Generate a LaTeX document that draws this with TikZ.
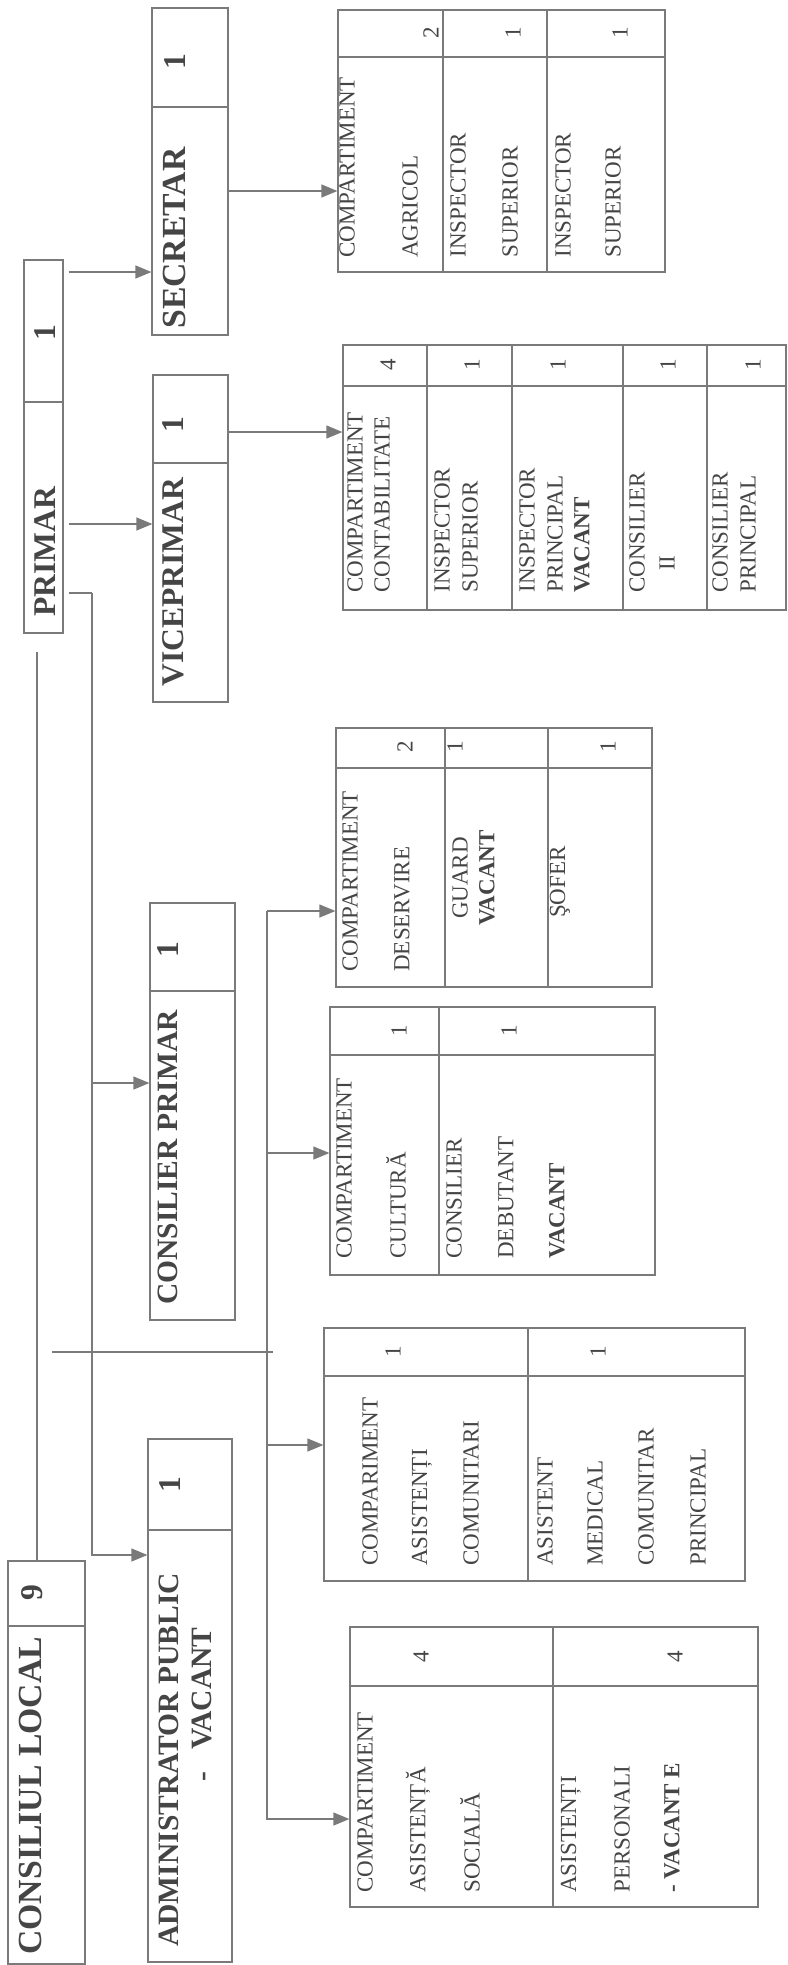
\documentclass[tikz,border=0pt]{standalone}
\usepackage{fontspec}
\setmainfont{Liberation Serif}
\usetikzlibrary{arrows.meta,fit}
\definecolor{ink}{HTML}{454545}
\definecolor{rule}{HTML}{7A7A7A}
\tikzset{
  box/.style={draw=rule,line width=.7pt,inner sep=0pt},
  wire/.style={draw=rule,line width=.7pt},
  arr/.style={draw=rule,line width=.7pt,-{Triangle[length=3.2mm,width=2.6mm,fill=rule]}},
  txt/.style={rotate=90,anchor=west,inner sep=0pt,text=ink,font=\fontsize{13.1}{15}\selectfont},
  num/.style={rotate=90,inner sep=0pt,text=ink,font=\fontsize{13.1}{15}\selectfont},
  hdr/.style={rotate=90,anchor=west,inner sep=0pt,text=ink,font=\bfseries\fontsize{18}{20}\selectfont},
  hdrbig/.style={hdr,font=\bfseries\fontsize{19.2}{21}\selectfont},
  hdrsmall/.style={hdr,font=\bfseries\fontsize{16.8}{19}\selectfont},
  hnum/.style={rotate=90,inner sep=0pt,text=ink,font=\bfseries\fontsize{18}{20}\selectfont}
}
\begin{document}
\begin{tikzpicture}[x=0.02cm,y=-0.02cm]
\useasboundingbox (0,0) rectangle (788,1965);

% head boxes
\node[box,fit={(24,260)(63,633)}] (primar) {};
\node[box,fit={(152,8)(228,335)}] (secretar) {};
\node[box,fit={(153,375)(228,702)}] (viceprimar) {};
\node[box,fit={(150,903)(235,1320)}] (consprimar) {};
\node[box,fit={(148,1439)(232,1962)}] (admin) {};
\node[box,fit={(8,1561)(85,1964)}] (consiliu) {};
\draw[wire] (24,402) -- (63,402) (152,107) -- (228,107) (153,463) -- (228,463)
  (150,991) -- (235,991) (148,1530) -- (232,1530) (8,1626) -- (85,1626);

% compartment tables
\node[box,fit={(338,10)(665,272)}] (agricol) {};
\draw[wire] (338,57) -- (665,57) (443,10) -- (443,272) (547,10) -- (547,272);
\node[box,fit={(343,345)(786,610)}] (contab) {};
\draw[wire] (343,386) -- (786,386);
\foreach \x in {427,512,623,707} \draw[wire] (\x,345) -- (\x,610);
\node[box,fit={(336,728)(652,987)}] (deserv) {};
\draw[wire] (336,768) -- (652,768) (445,728) -- (445,987) (548,728) -- (548,987);
\node[box,fit={(330,1007)(655,1275)}] (cultura) {};
\draw[wire] (330,1055) -- (655,1055) (439,1007) -- (439,1275);
\node[box,fit={(324,1328)(745,1581)}] (comunit) {};
\draw[wire] (324,1376) -- (745,1376) (528,1328) -- (528,1581);
\node[box,fit={(350,1627)(758,1907)}] (social) {};
\draw[wire] (350,1686) -- (758,1686) (553,1627) -- (553,1907);

% connectors
\draw[arr,shorten <=1mm] (primar.east |- 0,272) -- (secretar.west |- 0,272);
\draw[arr,shorten <=1mm] (primar.east |- 0,524) -- (viceprimar.west |- 0,524);
\draw[arr] (secretar.east |- 0,191) -- (agricol.west |- 0,191);
\draw[arr] (viceprimar.east |- 0,432) -- (contab.west |- 0,432);
\coordinate (pb) at (92,593);
\draw[wire,shorten <=1mm] (primar.east |- pb) -- (pb);
\draw[arr] (pb) |- (admin.west |- 0,1555);
\draw[arr] (pb |- 0,1083) -- (consprimar.west |- 0,1083);
\coordinate (cl) at (37,652);
\draw[wire] (cl) -- (cl |- consiliu.north);
\coordinate (s1) at (52,1352);
\coordinate (s2) at (273,1352);
\draw[wire] (s1) -- (s2);
\coordinate (lb) at (267,911);
\draw[arr] (lb) -- (deserv.west |- lb);
\draw[arr] (lb) |- (social.west |- 0,1819);
\draw[arr] (lb |- 0,1153) -- (cultura.west |- 0,1153);
\draw[arr] (lb |- 0,1445) -- (comunit.west |- 0,1445);

% head texts
\node[hdr] (primart) at (45,617) {PRIMAR};
\node[hnum] (primarn) at (45,333) {1};
\node[hdrbig] (secretart) at (174,329) {SECRETAR};
\node[hnum] (secretarn) at (175,62) {1};
\node[hdr] (vicet) at (173,687) {VICEPRIMAR};
\node[hnum] (vicen) at (173,425) {1};
\node[hdrsmall] (consprimart) at (168,1305) {CONSILIER PRIMAR};
\node[hnum] (consprimarn) at (168,950) {1};
\node[hdrsmall] (admint) at (169,1947) {ADMINISTRATOR PUBLIC};
\node[hdrsmall] (adminv) at (202,1782) {-\hspace{0.44cm}VACANT};
\node[hnum] (adminn) at (170,1485) {1};
\node[hdrbig] (consiliut) at (30,1955) {CONSILIUL LOCAL};
\node[hnum] (consiliun) at (32,1593) {9};

% table texts
\foreach \x/\t [count=\i] in {347/COMPARTIMENT,410/AGRICOL,458/INSPECTOR,510/SUPERIOR,563/INSPECTOR,613/SUPERIOR}
  \node[txt] (agr\i) at (\x,258) {\t};
\foreach \x/\t [count=\i] in {431/2,513/1,620/1}
  \node[num] (agrn\i) at (\x,33) {\t};

\foreach \x/\t [count=\i] in {355/COMPARTIMENT,382/CONTABILITATE,442/INSPECTOR,470/SUPERIOR,527/INSPECTOR,555/PRINCIPAL,582/\textbf{VACANT},637/CONSILIER,720/CONSILIER,748/PRINCIPAL}
  \node[txt] (con\i) at (\x,593) {\t};
\node[num] (conii) at (667,563) {II};
\foreach \x/\t [count=\i] in {388/4,472/1,558/1,668/1,753/1}
  \node[num] (conn\i) at (\x,365) {\t};

\foreach \x/\t [count=\i] in {350/COMPARTIMENT,402/DESERVIRE}
  \node[txt] (des\i) at (\x,972) {\t};
\node[num] (desg) at (460,878) {GUARD};
\node[num] (desv) at (487,878) {\textbf{VACANT}};
\node[num] (dess) at (560,882) {ŞOFER};
\foreach \x/\t [count=\i] in {405/2,455/1,608/1}
  \node[num] (desn\i) at (\x,747) {\t};

\foreach \x/\t [count=\i] in {344/COMPARTIMENT,396/CULTURĂ,454/CONSILIER,506/DEBUTANT,557/\textbf{VACANT}}
  \node[txt] (cul\i) at (\x,1259) {\t};
\foreach \x/\t [count=\i] in {399/1,509/1}
  \node[num] (culn\i) at (\x,1031) {\t};

\foreach \x/\t [count=\i] in {370/COMPARIMENT,422/ASISTENȚI,471/COMUNITARI,545/ASISTENT,595/MEDICAL,646/COMUNITAR,698/PRINCIPAL}
  \node[txt] (com\i) at (\x,1566) {\t};
\foreach \x/\t [count=\i] in {393/1,598/1}
  \node[num] (comn\i) at (\x,1352) {\t};

\foreach \x/\t [count=\i] in {365/COMPARTIMENT,418/ASISTENȚĂ,470/SOCIALĂ,571/ASISTENȚI,622/PERSONALI,672/\textbf{- VACANT E}}
  \node[txt] (soc\i) at (\x,1893) {\t};
\foreach \x/\t [count=\i] in {421/4,675/4}
  \node[num] (socn\i) at (\x,1657) {\t};

\end{tikzpicture}
\end{document}
